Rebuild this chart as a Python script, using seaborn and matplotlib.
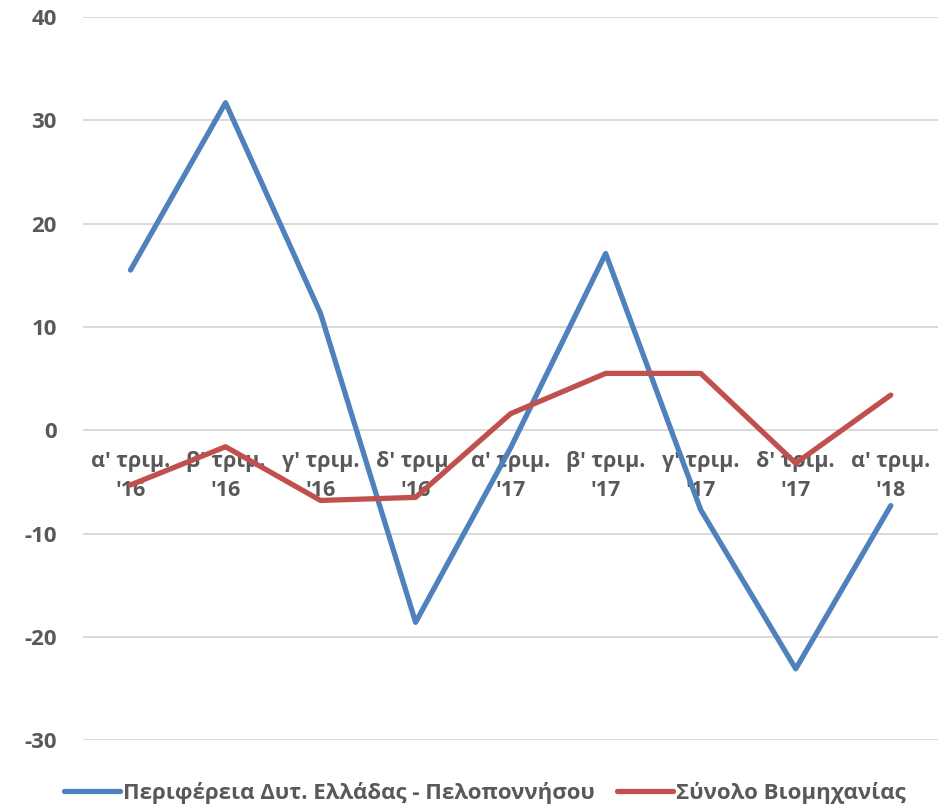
import pandas as pd
import seaborn as sns
import matplotlib.pyplot as plt

# Quarter labels (two lines each, as in the original)
quarters = ["α' τριμ.\n'16", "β' τριμ.\n'16", "γ' τριμ.\n'16", "δ' τριμ.\n'16",
            "α' τριμ.\n'17", "β' τριμ.\n'17", "γ' τριμ.\n'17", "δ' τριμ.\n'17",
            "α' τριμ.\n'18"]
region_name = "Περιφέρεια Δυτ. Ελλάδας - Πελοποννήσου"
total_name = "Σύνολο Βιομηχανίας"
region_vals = [15.5, 31.7, 11.3, -18.6, -1.7, 17.1, -7.7, -23.1, -7.3]
total_vals = [-5.3, -1.6, -6.8, -6.5, 1.6, 5.5, 5.5, -3.2, 3.4]
yticks = [-30, -20, -10, 0, 10, 20, 30, 40]

df = pd.DataFrame({
    "quarter": list(range(len(quarters))) * 2,
    "value": region_vals + total_vals,
    "series": [region_name] * len(quarters) + [total_name] * len(quarters),
})

sns.set_style("white")
plt.rcParams['font.family'] = ['Open Sans', 'DejaVu Sans']
plt.rcParams['axes.unicode_minus'] = False

fig = plt.figure(figsize=(9.43, 8.08), dpi=100)
ax = fig.add_axes([0.088, 0.084, 0.907, 0.895])

sns.lineplot(data=df, x="quarter", y="value", hue="series",
             hue_order=[region_name, total_name],
             palette=["#4F81BD", "#C0504D"], linewidth=3.8, ax=ax,
             solid_capstyle="round")

ax.set_ylim(-30, 40)
ax.set_xlim(-0.5, len(quarters) - 0.5)
ax.set_yticks(yticks)
ax.yaxis.grid(True, color="#D9D9D9", linewidth=1.4)
ax.set_axisbelow(True)
for s in ax.spines.values():
    s.set_visible(False)
ax.spines['bottom'].set_position(('data', 0))

ax.set_xticks(range(len(quarters)))
ax.set_xticklabels(quarters, fontsize=15.5, fontweight="bold", color="#595959",
                   linespacing=1.5)
ax.tick_params(axis="x", length=0, pad=15)
ax.tick_params(axis="y", length=0, pad=19, labelsize=16, labelcolor="#595959")
for t in ax.get_yticklabels():
    t.set_fontweight("bold")
ax.set_xlabel("")
ax.set_ylabel("")

leg = ax.legend(loc="center", bbox_to_anchor=(0.47, -0.073), ncol=2,
                frameon=False, fontsize=16, handlelength=2.5, handletextpad=0.15,
                columnspacing=1.0)
for t in leg.get_texts():
    t.set_fontweight("bold")
    t.set_color("#595959")

fig.savefig("out.png", dpi=100)
